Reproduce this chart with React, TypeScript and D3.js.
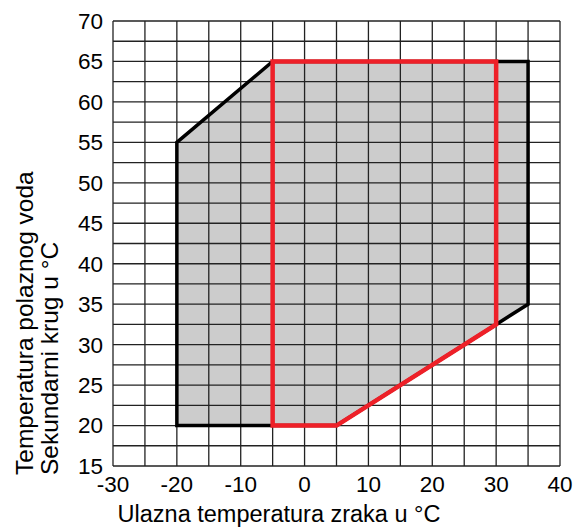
import * as d3 from "d3";

const xTicks = [-30, -20, -10, 0, 10, 20, 30, 40];
const yTicks = [15, 20, 25, 30, 35, 40, 45, 50, 55, 60, 65, 70];
const xGrid = d3.range(-30, 40.01, 5);
const yGrid = d3.range(15, 70.01, 2.5);

// outer operating envelope (grey)
const outerX = [-20, -20, -5, 35, 35, 30, 5];
const outerY = [20, 55, 65, 65, 35, 32.5, 20];
// inner envelope (red)
const innerX = [-5, -5, 30, 30, 5];
const innerY = [20, 65, 65, 32.5, 20];

const W = 577;
const H = 531;
const margin = { left: 113, right: 17, top: 21, bottom: 65 };

export default function App() {
  const x = d3.scaleLinear().domain([-30, 40]).range([margin.left, W - margin.right]);
  const y = d3.scaleLinear().domain([15, 70]).range([H - margin.bottom, margin.top]);
  const line = d3
    .line<[number, number]>()
    .x((d) => x(d[0]))
    .y((d) => y(d[1]))
    .curve(d3.curveLinearClosed);
  const outer = outerX.map((v, i) => [v, outerY[i]] as [number, number]);
  const inner = innerX.map((v, i) => [v, innerY[i]] as [number, number]);
  const font = "Liberation Sans, Arial, sans-serif";

  return (
    <svg width={W} height={H} style={{ position: "absolute", left: 0, top: 0, background: "#fff" }} fontFamily={font}>
      <path d={line(outer) || ""} fill="#cccccc" stroke="none" />
      {xGrid.map((v) => (
        <line key={"gx" + v} x1={x(v)} x2={x(v)} y1={y(15)} y2={y(70)} stroke="#222" strokeWidth={1.3} />
      ))}
      {yGrid.map((v) => (
        <line key={"gy" + v} x1={x(-30)} x2={x(40)} y1={y(v)} y2={y(v)} stroke="#222" strokeWidth={1.3} />
      ))}
      <path d={line(outer) || ""} fill="none" stroke="#000" strokeWidth={3.5} strokeLinejoin="miter" />
      <path d={line(inner) || ""} fill="none" stroke="#ee2028" strokeWidth={4.5} strokeLinejoin="miter" />
      {yTicks.map((v) => (
        <text key={"ty" + v} x={103} y={y(v)} dy="0.35em" textAnchor="end" fontSize={22.5} fill="#000">
          {v}
        </text>
      ))}
      {xTicks.map((v) => (
        <text key={"tx" + v} x={x(v)} y={492} textAnchor="middle" fontSize={22.5} fill="#000">
          {v}
        </text>
      ))}
      <text x={279} y={522} textAnchor="middle" fontSize={23.5} fill="#000">
        Ulazna temperatura zraka u °C
      </text>
      <g transform="translate(33,475) rotate(-90)">
        <text x={0} y={0} textAnchor="start" fontSize={24.5} fill="#000">
          Temperatura polaznog voda
        </text>
        <text x={0} y={25} textAnchor="start" fontSize={24.5} fill="#000">
          Sekundarni krug u °C
        </text>
      </g>
    </svg>
  );
}
